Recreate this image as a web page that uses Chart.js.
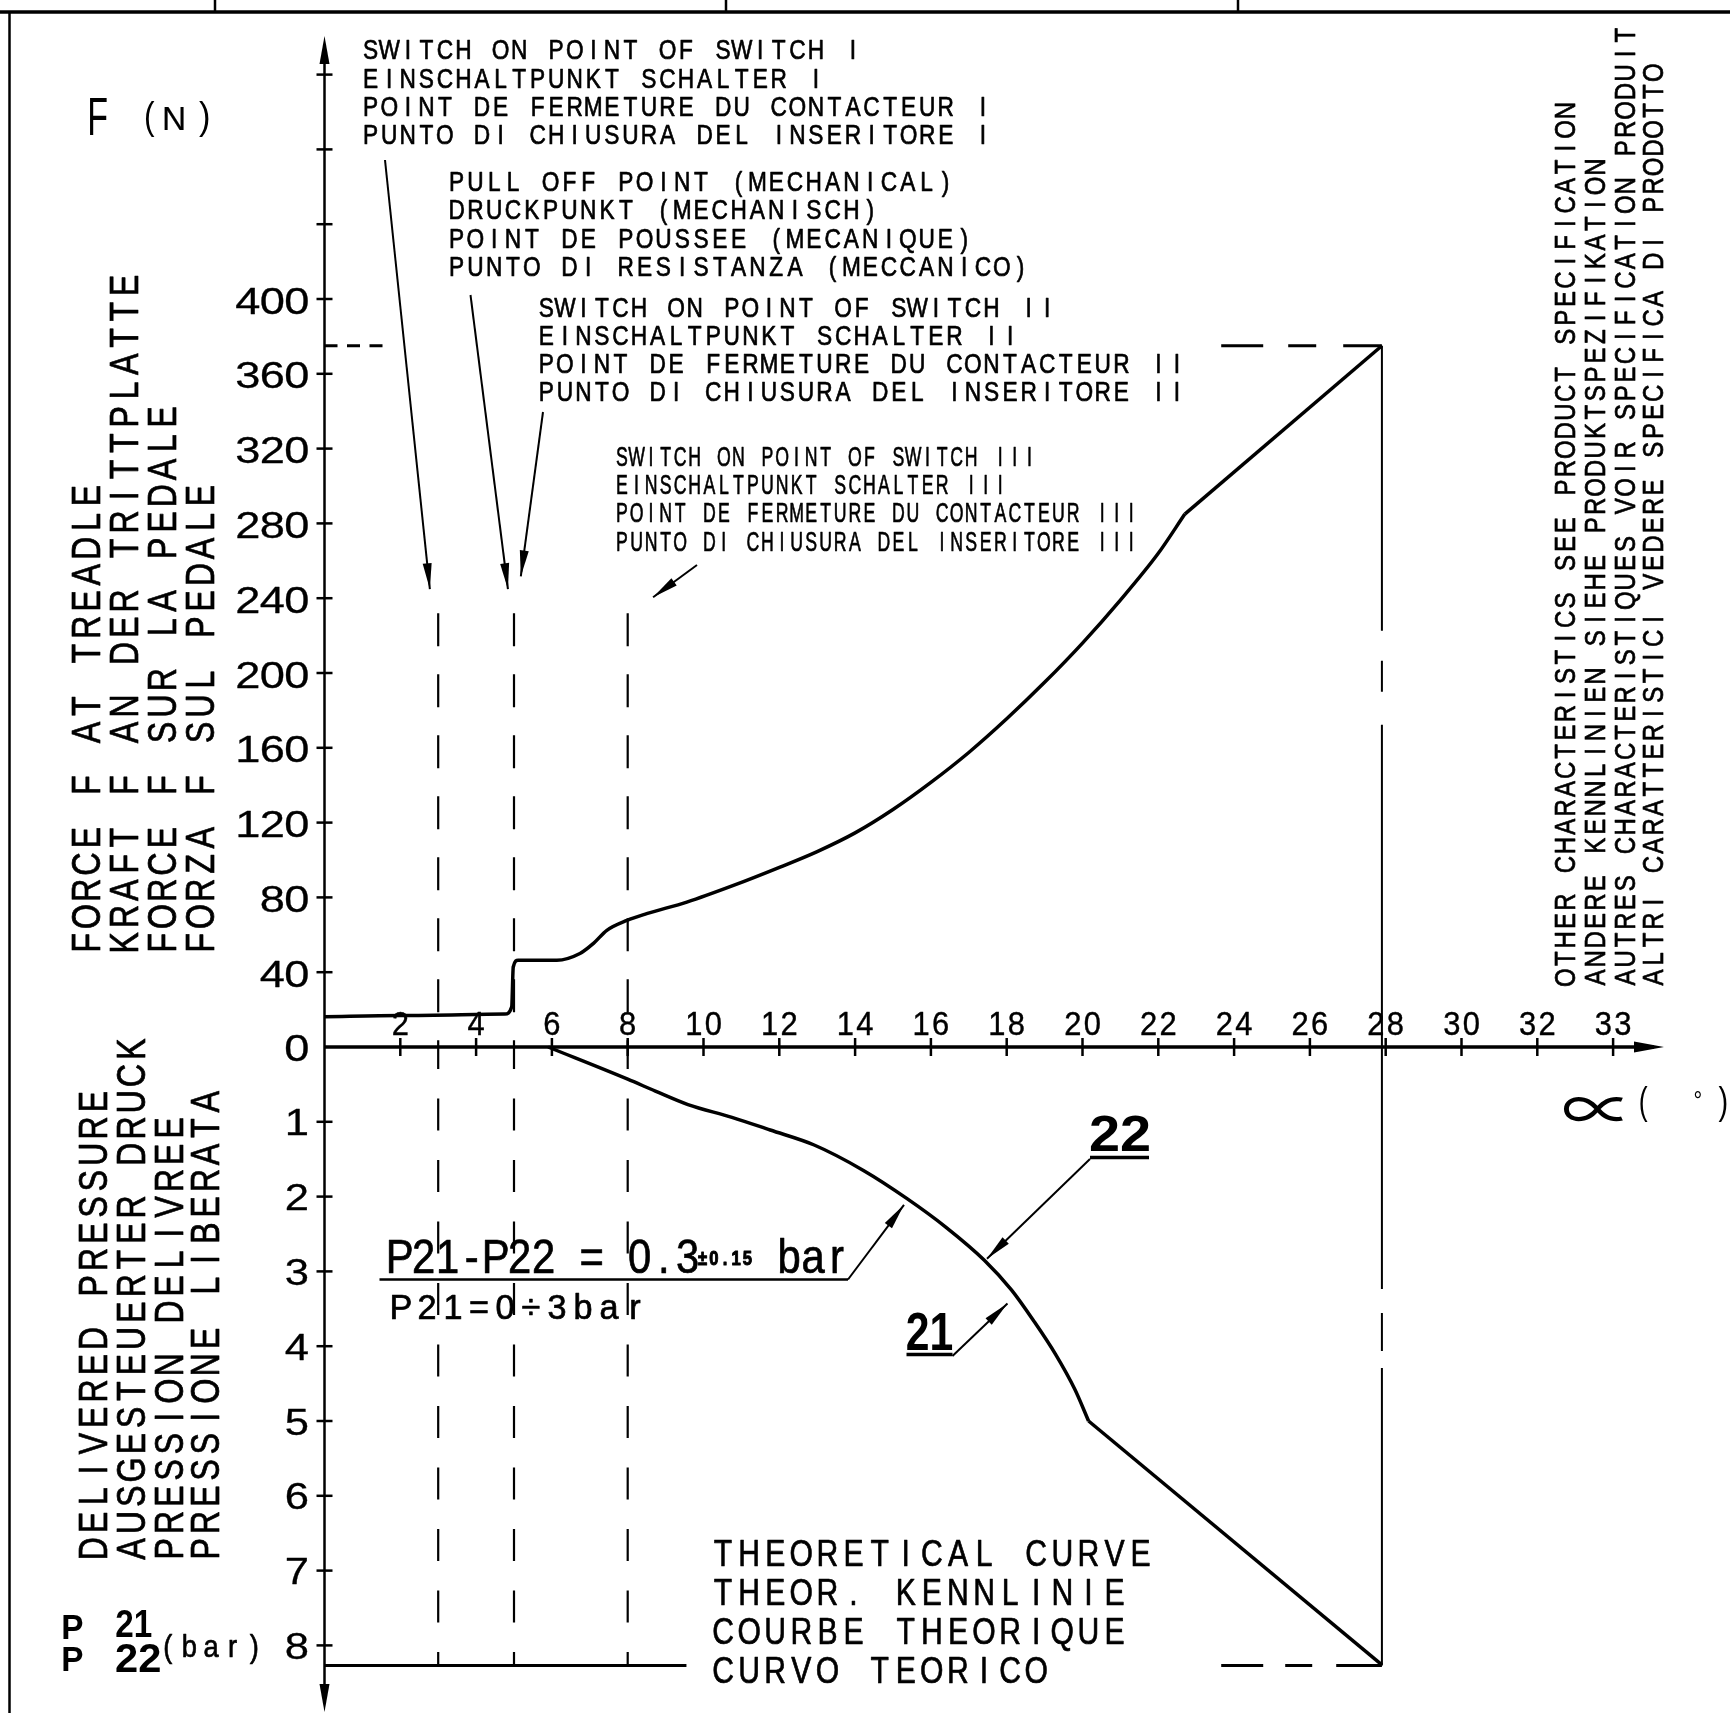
<!DOCTYPE html>
<html><head><meta charset="utf-8">
<script src="https://cdn.jsdelivr.net/npm/chart.js@4.4.1/dist/chart.umd.min.js"></script>
<style>html,body{margin:0;padding:0;background:#fff;overflow:hidden}canvas{display:block}</style>
</head><body>
<canvas id="c" width="1730" height="1713" style="width:1730px;height:1713px"></canvas>
<script>
// ---------------- data ----------------
const forceAngle = [0, 2, 4.76, 4.94, 4.98, 5.11, 6.13, 6.74, 7.09, 7.45, 7.98, 8.5, 9.56, 10.79, 12.02, 13, 14, 15, 16, 17, 18, 19, 20, 21, 22, 22.7, 27.9];
const forceValue = [16.2, 16.8, 17.6, 21.5, 42.8, 46.4, 46.4, 50, 55.3, 62.4, 67.7, 71.3, 77.5, 86.4, 96.2, 104.5, 114.5, 127, 141.5, 157.5, 175.5, 195, 216, 239, 264, 285, 375];
const forceKinkAngle = 22.7;
const pressureAngle = [5.9, 8.0, 8.73, 9.59, 10.75, 11.76, 12.92, 14.22, 15.38, 16.4, 17.41, 18.13, 18.71, 19.29, 19.8, 20.16, 27.9];
const pressureValue = [0, 0.43, 0.59, 0.77, 0.94, 1.11, 1.31, 1.65, 2.03, 2.41, 2.85, 3.25, 3.66, 4.11, 4.58, 5.0, 8.26];
const pressureKinkAngle = 20.16;
const switchAngles = [3, 5, 8];
const switchTopForce = 232;
const endAngle = 27.9;
const endForce = 375;
const endPressure = 8.27;
const limitLeftEnd = 1.55;
const limitRightStart = 23.66;
const baseLineEnd = 9.55;

const xTickValues = [2, 4, 6, 8, 10, 12, 14, 16, 18, 20, 22, 24, 26, 28, 30, 32, 34];
const xTickLabels = ['2', '4', '6', '8', '10', '12', '14', '16', '18', '20', '22', '24', '26', '28', '30', '32', '33'];
const forceTickValues = [40, 80, 120, 160, 200, 240, 280, 320, 360, 400, 440, 480, 520];
const forceTickLabels = ['40', '80', '120', '160', '200', '240', '280', '320', '360', '400', '', '', ''];
const pressureTickValues = [1, 2, 3, 4, 5, 6, 7, 8];
const pressureTickLabels = ['1', '2', '3', '4', '5', '6', '7', '8'];

const titleForce = ['FORCE F AT TREADLE', 'KRAFT F AN DER TRITTPLATTE', 'FORCE F SUR LA PEDALE', 'FORZA F SUL PEDALE'];
const titlePressure = ['DELIVERED PRESSURE', 'AUSGESTEUERTER DRUCK', 'PRESSION DELIVREE', 'PRESSIONE LIBERATA'];
const noteSwitch1 = ['SWITCH ON POINT OF SWITCH I', 'EINSCHALTPUNKT SCHALTER I', 'POINT DE FERMETURE DU CONTACTEUR I', 'PUNTO DI CHIUSURA DEL INSERITORE I'];
const notePullOff = ['PULL OFF POINT (MECHANICAL)', 'DRUCKPUNKT (MECHANISCH)', 'POINT DE POUSSEE (MECANIQUE)', 'PUNTO DI RESISTANZA (MECCANICO)'];
const noteSwitch2 = ['SWITCH ON POINT OF SWITCH II', 'EINSCHALTPUNKT SCHALTER II', 'POINT DE FERMETURE DU CONTACTEUR II', 'PUNTO DI CHIUSURA DEL INSERITORE II'];
const noteSwitch3 = ['SWITCH ON POINT OF SWITCH III', 'EINSCHALTPUNKT SCHALTER III', 'POINT DE FERMETURE DU CONTACTEUR III', 'PUNTO DI CHIUSURA DEL INSERITORE III'];
const noteOther = ['OTHER CHARACTERISTICS SEE PRODUCT SPECIFICATION', 'ANDERE KENNLINIEN SIEHE PRODUKTSPEZIFIKATION', 'AUTRES CHARACTERISTIQUES VOIR SPECIFICATION PRODUIT', 'ALTRI CARATTERISTICI VEDERE SPECIFICA DI PRODOTTO'];
const noteTheory = ['THEORETICAL CURVE', 'THEOR. KENNLINIE', 'COURBE THEORIQUE', 'CURVO TEORICO'];

// ---------------- helpers ----------------
const FAM = '"Liberation Sans", Arial, sans-serif';
function cad(ctx, str, x0, base, o) {
  const size = o.cap / 0.716;
  ctx.save();
  ctx.font = (o.weight || 'normal') + ' ' + size + 'px ' + (o.family || FAM);
  ctx.fillStyle = '#000';
  ctx.strokeStyle = '#000';
  ctx.lineWidth = (o.stroke === undefined ? 0.7 : o.stroke);
  ctx.lineJoin = 'round';
  ctx.textAlign = 'center';
  ctx.textBaseline = 'alphabetic';
  ctx.translate(x0, base);
  if (o.rot) ctx.rotate(-Math.PI / 2);
  for (let i = 0; i < str.length; i++) {
    const ch = str[i];
    if (ch === ' ') continue;
    ctx.save();
    ctx.translate((i + 0.5) * o.adv, 0);
    ctx.scale(o.sx, 1);
    ctx.fillText(ch, 0, 0);
    if (ctx.lineWidth > 0.05) ctx.strokeText(ch, 0, 0);
    ctx.restore();
  }
  ctx.restore();
}
function fitBox(ctx, str, left, top, w, h, font) {
  ctx.save();
  ctx.font = font;
  ctx.fillStyle = '#000';
  ctx.textAlign = 'left';
  ctx.textBaseline = 'alphabetic';
  const m = ctx.measureText(str);
  const iw = m.actualBoundingBoxLeft + m.actualBoundingBoxRight;
  const ih = m.actualBoundingBoxAscent + m.actualBoundingBoxDescent;
  ctx.translate(left, top);
  ctx.scale(w / iw, h / ih);
  ctx.fillText(str, m.actualBoundingBoxLeft, m.actualBoundingBoxAscent);
  ctx.restore();
}
function line(ctx, x1, y1, x2, y2, w) {
  ctx.save(); ctx.lineWidth = w; ctx.strokeStyle = '#000'; ctx.lineCap = 'butt';
  ctx.beginPath(); ctx.moveTo(x1, y1); ctx.lineTo(x2, y2); ctx.stroke(); ctx.restore();
}
function head(ctx, x1, y1, x2, y2, len, hw) {
  const a = Math.atan2(y2 - y1, x2 - x1);
  const bx = x2 - len * Math.cos(a), by = y2 - len * Math.sin(a);
  ctx.save(); ctx.fillStyle = '#000';
  ctx.beginPath(); ctx.moveTo(x2, y2);
  ctx.lineTo(bx + hw * Math.sin(a), by - hw * Math.cos(a));
  ctx.lineTo(bx - hw * Math.sin(a), by + hw * Math.cos(a));
  ctx.closePath(); ctx.fill(); ctx.restore();
}
function arrow(ctx, x1, y1, x2, y2) {
  line(ctx, x1, y1, x2, y2, 2);
  head(ctx, x1, y1, x2, y2, 26, 4.5);
}
function block(ctx, lines, x0, bases, o) {
  lines.forEach((s, i) => cad(ctx, s, x0, bases[i], o));
}

// ---------------- drawing plugin ----------------
const drawing = {
  id: 'drawing',
  beforeDatasetsDraw(chart) {
    const ctx = chart.ctx;
    const X = chart.scales.x, F = chart.scales.yF, P = chart.scales.yP;
    const x0 = X.getPixelForValue(0), y0 = F.getPixelForValue(0);
    // frame
    line(ctx, 0, 12, 1730, 12, 3.5);
    [215, 726, 1238].forEach(x => line(ctx, x, 0, x, 12, 2.5));
    line(ctx, 9.5, 12, 9.5, 1713, 2.5);
    // y axis
    const yTop = chart.chartArea.top, yBot = chart.chartArea.bottom;
    line(ctx, x0, yTop + 10, x0, yBot - 10, 2.5);
    head(ctx, x0, yTop + 40, x0, yTop, 28, 5);
    head(ctx, x0, yBot - 40, x0, yBot, 28, 5);
    // x axis
    const xEnd = chart.chartArea.right;
    line(ctx, x0, y0, xEnd - 10, y0, 3.5);
    head(ctx, xEnd - 40, y0, xEnd, y0, 30, 5.5);
    // ticks
    forceTickValues.forEach(v => { const y = F.getPixelForValue(v); line(ctx, x0 - 8, y, x0 + 8, y, 2.5); });
    pressureTickValues.forEach(v => { const y = P.getPixelForValue(v); line(ctx, x0 - 8, y, x0 + 8, y, 2.5); });
    xTickValues.forEach(v => { const x = X.getPixelForValue(v); line(ctx, x, y0 - 9, x, y0 + 9, 2.5); });
  },
  afterDatasetsDraw(chart) {
    const ctx = chart.ctx;
    const X = chart.scales.x, F = chart.scales.yF, P = chart.scales.yP;
    const y0 = F.getPixelForValue(0);
    // tick labels
    const yl = { cap: 27, adv: 24.5, sx: 1.2, stroke: 0.3 };
    forceTickValues.forEach((v, i) => {
      const s = forceTickLabels[i]; if (!s) return;
      cad(ctx, s, 309 - s.length * yl.adv, F.getPixelForValue(v) + 14.5, yl);
    });
    cad(ctx, '0', 309 - yl.adv, y0 + 14, yl);
    pressureTickValues.forEach((v, i) => {
      const s = pressureTickLabels[i];
      cad(ctx, s, 309 - s.length * yl.adv, P.getPixelForValue(v) + 13.5, { cap: 26, adv: 24.5, sx: 1.2, stroke: 0.3 });
    });
    const xl = { cap: 23.3, adv: 19.5, sx: 0.95, stroke: 0.4 };
    xTickValues.forEach((v, i) => {
      const s = xTickLabels[i];
      cad(ctx, s, X.getPixelForValue(v) - s.length * xl.adv / 2, y0 - 12, xl);
    });
    // axis titles
    fitBox(ctx, 'F', 90, 97, 17, 38, '50px ' + FAM);
    fitBox(ctx, '(', 145.5, 100, 9.5, 36.5, '40px ' + FAM);
    cad(ctx, 'N', 157, 129.5, { cap: 24, adv: 34, sx: 1.0, stroke: 0.2 });
    fitBox(ctx, ')', 199, 100, 9.5, 36.5, '40px ' + FAM);
    const rt = { cap: 29, adv: 26.3, sx: 0.8, rot: true };
    [85, 123.6, 161.5, 199].forEach((cx, i) => cad(ctx, titleForce[i], cx + 14.5, 956, rt));
    [92, 130, 168, 204].forEach((cx, i) => cad(ctx, titlePressure[i], cx + 14.5, 1562, rt));
    const ro = { cap: 21.5, adv: 18.85, sx: 0.8, rot: true };
    [1564, 1594, 1624, 1652].forEach((cx, i) => cad(ctx, noteOther[i], cx + 10.75, 987, ro));
    fitBox(ctx, '\u221D', 1564, 1097, 60, 25, '60px "Noto Sans CJK JP", "DejaVu Sans", sans-serif');
    fitBox(ctx, '(', 1640, 1085, 8, 36.5, '40px ' + FAM);
    fitBox(ctx, '\u00B0', 1694.5, 1090, 6.5, 8, '40px ' + FAM);
    fitBox(ctx, ')', 1718.5, 1085, 8, 36.5, '40px ' + FAM);
    // bottom-left P21 / P22 (bar)
    fitBox(ctx, 'P', 63, 1614, 20, 25, 'bold 40px ' + FAM);
    fitBox(ctx, '21', 116, 1610, 36, 27, 'bold 40px ' + FAM);
    fitBox(ctx, 'P', 63, 1647, 20, 24, 'bold 40px ' + FAM);
    fitBox(ctx, '22', 116, 1644, 44, 28, 'bold 40px ' + FAM);
    cad(ctx, '(bar)', 157, 1657, { cap: 23, adv: 21.6, sx: 0.85 });
    // note blocks
    const nb = { cap: 19.8, adv: 18.55, sx: 0.82 };
    block(ctx, noteSwitch1, 361.4, [59, 87.5, 116, 143.5], nb);
    block(ctx, notePullOff, 447.2, [190.5, 219, 247.5, 275.5], { cap: 19.8, adv: 18.8, sx: 0.82 });
    block(ctx, noteSwitch2, 537, [316.5, 344.5, 373, 400.5], nb);
    block(ctx, noteSwitch3, 614.7, [466, 493.5, 522, 550.5], { cap: 19.8, adv: 14.55, sx: 0.64 });
    block(ctx, noteTheory, 710, [1566, 1605, 1644, 1683], { cap: 27, adv: 26.1, sx: 0.8 });
    // leader arrows to switch points
    arrow(ctx, 385, 160, X.getPixelForValue(2.78), F.getPixelForValue(244.8));
    arrow(ctx, 470.5, 295, X.getPixelForValue(4.84), F.getPixelForValue(244.8));
    arrow(ctx, 543, 412, X.getPixelForValue(5.18), F.getPixelForValue(251.7));
    arrow(ctx, 697, 565, X.getPixelForValue(8.67), F.getPixelForValue(240.5));
    // pressure difference note
    const pn = { cap: 34, adv: 24, sx: 0.88 };
    cad(ctx, 'P21-P22 = 0.3', 387.7, 1273, pn);
    cad(ctx, '\u00B10.15', 697, 1265, { cap: 14, adv: 11.2, sx: 0.85, weight: 'bold', stroke: 0 });
    cad(ctx, 'bar', 777, 1273, pn);
    cad(ctx, 'P21=0\u00F73bar', 388, 1319, { cap: 24.5, adv: 26, sx: 1.0 });
    line(ctx, 379.5, 1279.5, 848, 1279.5, 2.5);
    arrow(ctx, 848, 1279.5, X.getPixelForValue(15.29), P.getPixelForValue(2.11));
    // 22 / 21 labels
    fitBox(ctx, '22', 1090, 1114, 59, 36.5, 'bold 50px ' + FAM);
    line(ctx, 1090, 1157.5, 1149, 1157.5, 3.5);
    arrow(ctx, 1090, 1159, X.getPixelForValue(17.48), P.getPixelForValue(2.83));
    fitBox(ctx, '21', 906.5, 1311.5, 46, 38.5, 'bold 50px ' + FAM);
    line(ctx, 906.5, 1354.5, 952.5, 1354.5, 3.5);
    arrow(ctx, 952.5, 1356, X.getPixelForValue(18.02), P.getPixelForValue(3.43));
  }
};

// ---------------- chart ----------------
const pts = (xs, ys, keep) => xs.map((x, i) => ({ x: x, y: ys[i] })).filter(p => keep(p.x));
const base = { borderColor: '#000', pointRadius: 0, fill: false, clip: false, borderCapStyle: 'butt', borderJoinStyle: 'round' };
const all = () => true;
const datasets = [
  Object.assign({}, base, { data: pts(forceAngle, forceValue, x => x <= forceKinkAngle), yAxisID: 'yF', borderWidth: 3.5, cubicInterpolationMode: 'monotone' }),
  Object.assign({}, base, { data: pts(forceAngle, forceValue, x => x >= forceKinkAngle), yAxisID: 'yF', borderWidth: 3.5, tension: 0 }),
  Object.assign({}, base, { data: pts(pressureAngle, pressureValue, x => x <= pressureKinkAngle), yAxisID: 'yP', borderWidth: 3.5, cubicInterpolationMode: 'monotone' }),
  Object.assign({}, base, { data: pts(pressureAngle, pressureValue, x => x >= pressureKinkAngle), yAxisID: 'yP', borderWidth: 3.5, tension: 0 })
];
switchAngles.forEach(a => {
  datasets.push(Object.assign({}, base, { data: pts([a, a], [switchTopForce, 0], all), yAxisID: 'yF', borderWidth: 2.2, borderDash: [33, 28] }));
  datasets.push(Object.assign({}, base, { data: pts([a, a], [0, endPressure], all), yAxisID: 'yP', borderWidth: 2.2, borderDash: [32, 29.5], borderDashOffset: 10 }));
});
datasets.push(Object.assign({}, base, { data: pts([endAngle, endAngle], [endForce, 0], all), yAxisID: 'yF', borderWidth: 2, borderDash: [285, 30, 31, 33, 2000] }));
datasets.push(Object.assign({}, base, { data: pts([endAngle, endAngle], [0, endPressure], all), yAxisID: 'yP', borderWidth: 2, borderDash: [242, 24, 38, 17, 2000] }));
datasets.push(Object.assign({}, base, { data: pts([0, limitLeftEnd], [endForce, endForce], all), yAxisID: 'yF', borderWidth: 3, borderDash: [13, 9.5] }));
datasets.push(Object.assign({}, base, { data: pts([limitRightStart, endAngle], [endForce, endForce], all), yAxisID: 'yF', borderWidth: 3, borderDash: [42, 25, 28, 27, 500] }));
datasets.push(Object.assign({}, base, { data: pts([0, baseLineEnd], [endPressure, endPressure], all), yAxisID: 'yP', borderWidth: 3 }));
datasets.push(Object.assign({}, base, { data: pts([limitRightStart, endAngle], [endPressure, endPressure], all), yAxisID: 'yP', borderWidth: 3, borderDash: [42, 22, 27, 24, 500] }));

const PX40 = 74.8;       // pixels per 40 N and per 1 bar
const AXIS_Y = 1047, TOP = 36, BOTTOM = 1712, LEFT = 324.5, RIGHT = 1664, PXDEG = 37.9;
new Chart(document.getElementById('c'), {
  type: 'line',
  data: { datasets: datasets },
  options: {
    responsive: false, animation: false, devicePixelRatio: 1,
    layout: { padding: { left: LEFT, right: 1730 - RIGHT, top: TOP, bottom: 1713 - BOTTOM } },
    plugins: { legend: { display: false }, tooltip: { enabled: false } },
    scales: {
      x: { type: 'linear', display: false, min: 0, max: (RIGHT - LEFT) / PXDEG },
      yF: { type: 'linear', display: false, min: -(BOTTOM - AXIS_Y) / PX40 * 40, max: (AXIS_Y - TOP) / PX40 * 40 },
      yP: { type: 'linear', display: false, reverse: true, min: -(AXIS_Y - TOP) / PX40, max: (BOTTOM - AXIS_Y) / PX40 }
    }
  },
  plugins: [drawing]
});
</script>
</body></html>
